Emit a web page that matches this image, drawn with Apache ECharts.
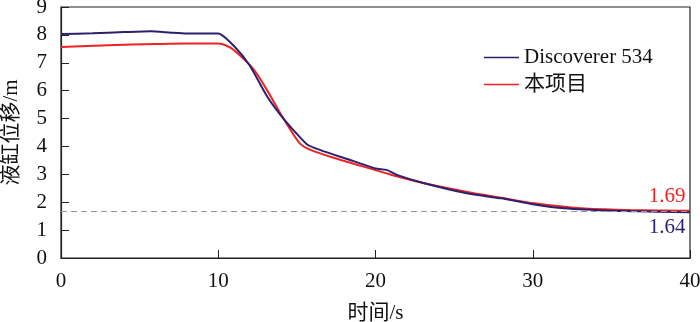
<!DOCTYPE html>
<html>
<head>
<meta charset="utf-8">
<script src="https://cdn.jsdelivr.net/npm/echarts@6/dist/echarts.min.js"></script>
<style>
  html, body { margin: 0; padding: 0; background: #fff; }
  #chart { width: 700px; height: 322px; }
</style>
</head>
<body>
<div id="chart"></div>
<script>
// Discoverer 534 曲线
const discT = [0, 2, 4, 5.7, 7, 8, 10, 11, 12, 13.1, 14, 15, 15.7, 16.5, 18.2, 20, 20.7, 21.4, 23.1, 25.8, 28, 30, 32, 35.2, 38, 40]
const discY = [8.03, 8.06, 8.1, 8.13, 8.08, 8.05, 8.05, 7.6, 6.9, 5.8, 5.1, 4.45, 4.05, 3.87, 3.55, 3.21, 3.16, 2.97, 2.68, 2.32, 2.14, 1.93, 1.78, 1.69, 1.66, 1.64]
// 本项目 曲线
const projT = [0, 3, 6, 8, 10, 10.5, 11, 12.2, 13.1, 14.15, 15.2, 15.9, 17.6, 20, 21.4, 23.1, 26.1, 28, 30.1, 33.1, 36.2, 40]
const projY = [7.57, 7.63, 7.67, 7.69, 7.69, 7.62, 7.45, 6.8, 6.02, 5.0, 4.1, 3.87, 3.55, 3.15, 2.92, 2.68, 2.34, 2.16, 1.96, 1.78, 1.72, 1.69]

const seriesNames = ['Discoverer 534', '本项目']
const refLine = 1.66
const endValues = [1.64, 1.69]

const FONT = '"Liberation Serif", "Noto Sans CJK SC", serif'
const NAVY = '#2e1f6e'
const RED = '#ee2222'

const discData = discT.map((t, i) => [t, discY[i]])
const projData = projT.map((t, i) => [t, projY[i]])

const chart = echarts.init(document.getElementById('chart'))

chart.setOption({
  animation: false,
  textStyle: { fontFamily: FONT },
  grid: {
    left: 61,
    right: 10,
    top: 7,
    bottom: 64,
    outerBoundsMode: 'none',
    containLabel: false,
    show: true,
    borderColor: '#222',
    borderWidth: 1.2
  },
  legend: {
    orient: 'vertical',
    left: 479,
    top: 42,
    itemWidth: 35,
    itemHeight: 1.5,
    itemGap: 6,
    icon: 'rect',
    textStyle: { fontFamily: FONT, fontSize: 21, color: '#111' },
    data: seriesNames
  },
  xAxis: {
    type: 'value',
    min: 0,
    max: 40,
    interval: 10,
    name: '时间/s',
    nameLocation: 'middle',
    nameGap: 45,
    nameTextStyle: { fontFamily: FONT, fontSize: 21, color: '#111' },
    axisLine: { lineStyle: { color: '#222', width: 1.2 } },
    axisTick: { inside: true, length: 8, lineStyle: { color: '#222' } },
    axisLabel: { fontFamily: FONT, fontSize: 21, color: '#111', margin: 13 },
    splitLine: { show: false }
  },
  yAxis: {
    type: 'value',
    min: 0,
    max: 9,
    interval: 1,
    name: '液缸位移/m',
    nameLocation: 'middle',
    nameRotate: 90,
    nameGap: 39,
    nameTextStyle: { fontFamily: FONT, fontSize: 21, color: '#111' },
    axisLine: { lineStyle: { color: '#222', width: 1.2 } },
    axisTick: { inside: true, length: 8, lineStyle: { color: '#222' } },
    axisLabel: { fontFamily: FONT, fontSize: 21, color: '#111', margin: 14 },
    splitLine: { show: false }
  },
  series: [
    {
      name: seriesNames[0],
      type: 'line',
      data: discData,
      showSymbol: false,
      smooth: 0.2,
      lineStyle: { color: NAVY, width: 2 },
      itemStyle: { color: NAVY },
      z: 3,
      markLine: {
        silent: true,
        symbol: 'none',
        label: { show: false },
        lineStyle: { color: '#999', type: [6, 4], width: 1.2 },
        data: [{ yAxis: refLine }]
      },
      markPoint: {
        symbol: 'circle',
        symbolSize: 0,
        label: {
          show: true,
          fontFamily: FONT,
          fontSize: 21,
          color: NAVY,
          offset: [-23, 15],
          formatter: '{c}'
        },
        data: [{ coord: [40, endValues[0]], value: endValues[0].toFixed(2) }]
      }
    },
    {
      name: seriesNames[1],
      type: 'line',
      data: projData,
      showSymbol: false,
      smooth: 0.3,
      lineStyle: { color: RED, width: 2 },
      itemStyle: { color: RED },
      z: 2,
      markPoint: {
        symbol: 'circle',
        symbolSize: 0,
        label: {
          show: true,
          fontFamily: FONT,
          fontSize: 21,
          color: RED,
          offset: [-23, -14],
          formatter: '{c}'
        },
        data: [{ coord: [40, endValues[1]], value: endValues[1].toFixed(2) }]
      }
    }
  ]
})
</script>
</body>
</html>
